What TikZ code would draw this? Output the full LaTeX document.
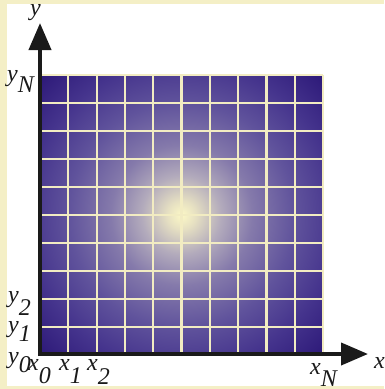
\documentclass[tikz,border=0pt]{standalone}
\usepackage{fontspec}
\setmainfont{Liberation Serif}
\usetikzlibrary{arrows.meta}
\definecolor{bgyellow}{HTML}{F4EFC6}
\definecolor{gridcream}{HTML}{F2ECC2}
\definecolor{axisblack}{HTML}{1A1A1A}
\definecolor{gA}{HTML}{FCF8C6}
\definecolor{gB}{HTML}{E6E0C2}
\definecolor{gC}{HTML}{B3ABBC}
\definecolor{gD}{HTML}{857AAB}
\definecolor{gE}{HTML}{60539C}
\definecolor{gF}{HTML}{45348D}
\definecolor{gG}{HTML}{2C1878}
\pgfdeclareradialshading{glow}{\pgfpoint{0bp}{0bp}}{color(0bp)=(gA); color(2.5bp)=(gB); color(7bp)=(gC); color(12.5bp)=(gD); color(20bp)=(gE); color(27.5bp)=(gF); color(35.5bp)=(gG); color(50bp)=(gG)}
\newcommand{\lsub}[2][12pt]{\raisebox{-#1}{#2}}
\tikzset{
  axis/.style={line width=4pt, draw=axisblack, -{Triangle[length=27pt, width=22pt]}},
  gridline/.style={line width=2.2pt, draw=gridcream},
  lbl/.style={font=\fontsize{24}{28}\selectfont\itshape, text=axisblack, inner sep=0pt, anchor=base west}
}
\begin{document}
\begin{tikzpicture}[x=1pt, y=-1pt]
\useasboundingbox (0,0) rectangle (384,389);
\fill[bgyellow] (0,0) rectangle (384,389);
\fill[white] (7,4) rectangle (384,386);
% shaded square
\shade[shading=glow] (40,75) rectangle (323,355);
% grid
\foreach \k in {0,...,10} {
  \draw[gridline] ({40+28.3*\k},75) -- ({40+28.3*\k},355);
  \draw[gridline] (40,{75+28*\k}) -- (323,{75+28*\k});
}
% axes
\coordinate (Ybase) at (40,356);
\coordinate (Ytip) at (40,23);
\coordinate (Xbase) at (38,354);
\coordinate (Xtip) at (368,354);
\draw[axis] (Ybase) -- (Ytip);
\draw[axis] (Xbase) -- (Xtip);
% labels
\node[lbl] (ly) at (30,15) {y};
\node[lbl] (lyN) at (7,81) {y\lsub[11pt]{N}};
\node[lbl] (ly2) at (8,302) {y\lsub[13pt]{2}};
\node[lbl] (ly1) at (8,332) {y\lsub[9pt]{1}};
\node[lbl] (ly0) at (8,363) {y\lsub[9pt]{0}};
\node[lbl] (lx0) at (28,370) {x\lsub[13pt]{0}};
\node[lbl] (lx1) at (59,370) {x\lsub[13pt]{1}};
\node[lbl] (lx2) at (87,370) {x\lsub[14pt]{2}};
\node[lbl] (lxN) at (310,374) {x\lsub[12pt]{N}};
\node[lbl] (lx) at (374,368) {x};
\end{tikzpicture}
\end{document}
